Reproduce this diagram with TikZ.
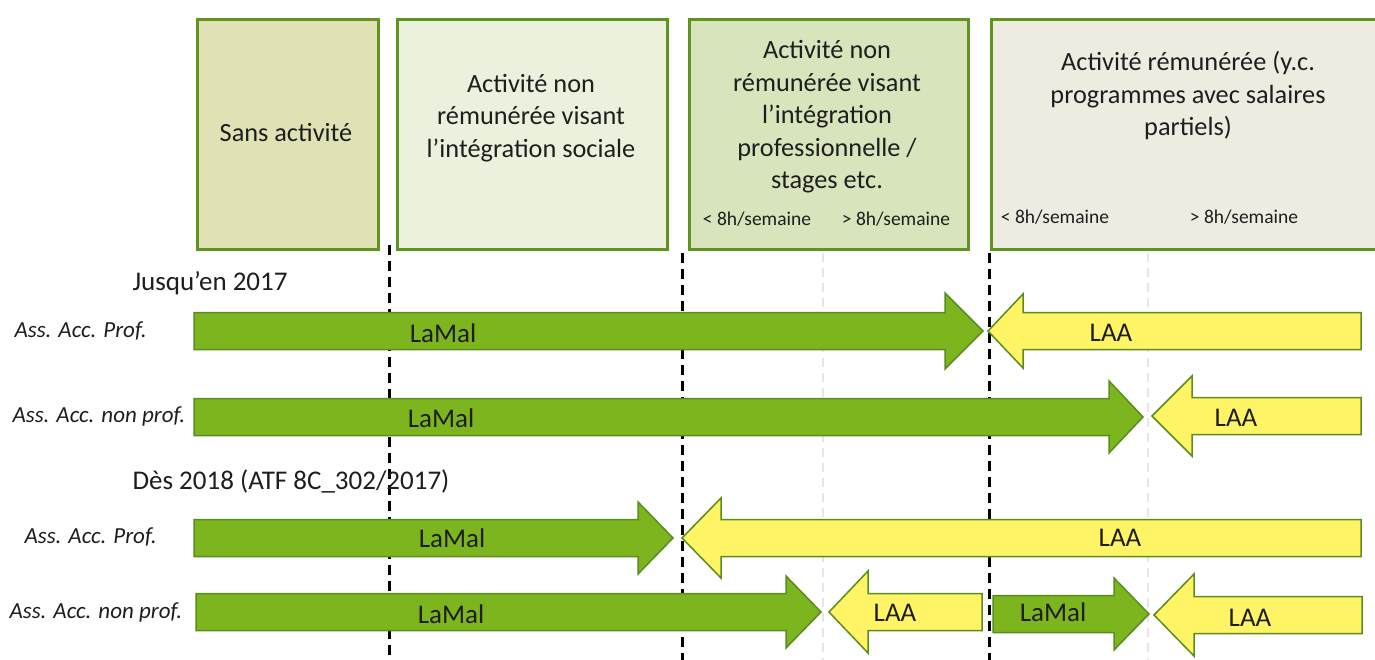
\documentclass[tikz,border=0pt]{standalone}
\usepackage{fontspec}
\setmainfont{Carlito}
\usepackage{xcolor}
\usetikzlibrary{positioning}

\definecolor{boxline}{HTML}{5F9420}
\definecolor{sansfill}{HTML}{E0E2B6}
\definecolor{socfill}{HTML}{EBF1DD}
\definecolor{profill}{HTML}{D7E4BC}
\definecolor{remfill}{HTML}{EEECE1}
\definecolor{lamalfill}{HTML}{7DB51F}
\definecolor{laafill}{HTML}{FFF466}
\definecolor{arrowline}{HTML}{5A8C1E}
\definecolor{lightdash}{HTML}{E6E6E6}
\definecolor{ink}{HTML}{1E1E1E}

% block arrow: style, tail x, head base x, tip x, middle y, half height of head
\newcommand{\blockarrow}[6]{%
  \draw[#1] (#2,#5-18.5) -- (#3,#5-18.5) -- (#3,#5-#6) -- (#4,#5)
    -- (#3,#5+#6) -- (#3,#5+18.5) -- (#2,#5+18.5) -- cycle;}

\begin{document}
\begin{tikzpicture}[x=1pt,y=-1pt,every node/.style={text=ink},
                    box/.style={draw=boxline,line width=3pt,inner sep=0pt,anchor=north west},
                    boxtext/.style={font=\fontsize{26.3}{32.5}\selectfont,align=center},
                    small/.style={font=\fontsize{19.5}{22}\selectfont},
                    period/.style={font=\fontsize{27}{30}\selectfont,anchor=west},
                    insurer/.style={font=\fontsize{23}{26}\selectfont\itshape,anchor=west},
                    law/.style={font=\fontsize{27}{30}\selectfont},
                    divider/.style={line width=3pt,dash pattern=on 10pt off 6pt},
                    subdivider/.style={lightdash,line width=1.5pt,dash pattern=on 9pt off 6pt},
                    lamal/.style={fill=lamalfill,draw=arrowline,line width=1.5pt,line join=miter},
                    laa/.style={fill=laafill,draw=arrowline,line width=1.5pt,line join=miter}]
\clip (0,0) rectangle (1375,660);

% categories
\node[box,fill=sansfill,minimum width=181pt,minimum height=230pt] (sans) at (195.5,18.5) {};
\node[box,fill=socfill,minimum width=270pt,minimum height=230pt] (social) at (395.5,18.5) {};
\node[box,fill=profill,minimum width=279pt,minimum height=230pt] (pro) at (687.5,18.5) {};
\node[box,fill=remfill,minimum width=400pt,minimum height=230pt] (paid) at (989.5,18.5) {};

\node[boxtext] (sanstext) at (286,133) {Sans activité};
\node[boxtext] (socialtext) at (531,118) {Activité non\\rémunérée visant\\l’intégration sociale};
\node[boxtext] (protext) at (827,117) {Activité non\\rémunérée visant\\l’intégration\\professionnelle /\\stages etc.};
\node[boxtext] (paidtext) at (1188,96) {Activité rémunérée (y.c.\\programmes avec salaires\\partiels)};
\node[small] (prolow) at (757,219) {< 8h/semaine};
\node[small] (prohigh) at (896,219) {> 8h/semaine};
\node[small] (paidlow) at (1055,217) {< 8h/semaine};
\node[small] (paidhigh) at (1244,217) {> 8h/semaine};

% limits
\draw[divider] (389,245) -- (389,660);
\draw[divider] (682,253) -- (682,660);
\draw[divider] (989,253) -- (989,660);
\draw[subdivider] (823,253) -- (823,660);
\draw[subdivider] (1148,253) -- (1148,660);

% until 2017
\node[period] (old) at (129,283) {Jusqu’en 2017};
\node[insurer] (oldprof) at (11,331) {Ass. Acc. Prof.};
\node[insurer] (oldnonprof) at (9,416) {Ass. Acc. non prof.};
\blockarrow{lamal}{194}{945}{983}{331}{38}
\blockarrow{laa}{1361}{1023}{988}{331}{37}
\blockarrow{lamal}{194}{1109}{1143}{417}{36}
\blockarrow{laa}{1361}{1192}{1152}{416}{40}
\node[law] (lamal1) at (443,333) {LaMal};
\node[law] (laa1) at (1111,333) {LAA};
\node[law] (lamal2) at (441,418) {LaMal};
\node[law] (laa2) at (1236,418) {LAA};

% from 2018
\node[period] (new) at (129,481) {Dès 2018 (ATF 8C\_302/2017)};
\node[insurer] (newprof) at (21,537) {Ass. Acc. Prof.};
\node[insurer] (newnonprof) at (6,612) {Ass. Acc. non prof.};
\blockarrow{lamal}{194}{638}{673}{538}{36}
\blockarrow{laa}{1361}{721}{682}{538}{40}
\blockarrow{lamal}{196}{786}{821}{612}{36}
\blockarrow{laa}{982}{868}{829}{612}{41}
\blockarrow{lamal}{993}{1114}{1149}{614}{36}
\blockarrow{laa}{1362}{1194}{1154}{615}{41}
\node[law] (lamal3) at (452,538) {LaMal};
\node[law] (laa3) at (1120,538) {LAA};
\node[law] (lamal4) at (451,614) {LaMal};
\node[law] (laa4) at (895,613) {LAA};
\node[law] (lamal5) at (1053,612) {LaMal};
\node[law] (laa5) at (1250,618) {LAA};
\end{tikzpicture}
\end{document}
